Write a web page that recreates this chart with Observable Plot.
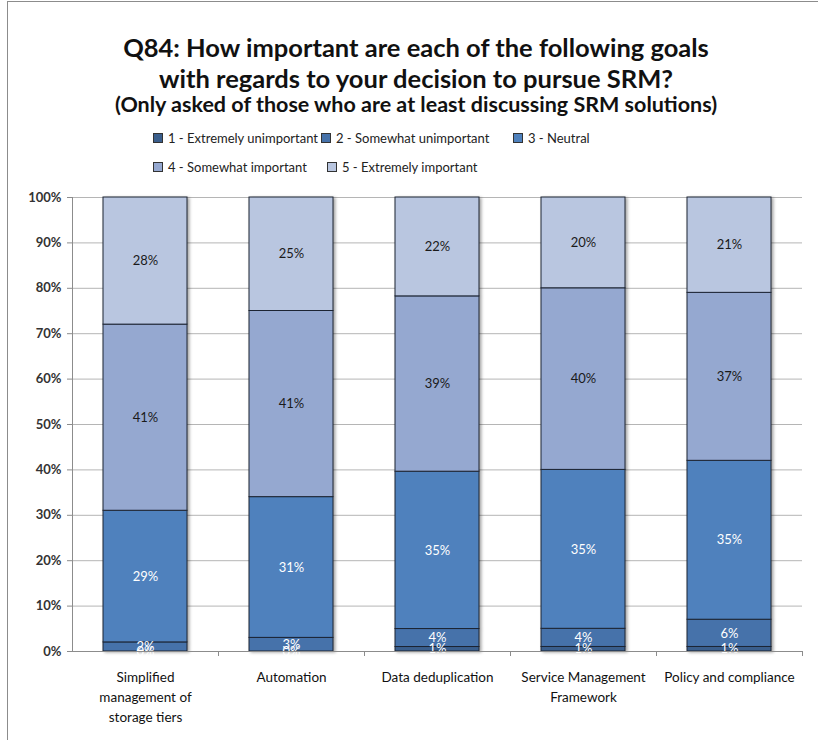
<!DOCTYPE html>
<html><head><meta charset="utf-8">
<script src="https://cdn.jsdelivr.net/npm/d3@7"></script>
<script src="https://cdn.jsdelivr.net/npm/@observablehq/plot@0.6"></script>
<style>
body{margin:0;background:#fff;font-family:Lato,"Open Sans",sans-serif;}
#wrap{position:relative;width:818px;height:740px;overflow:hidden;background:#fff}
#frame{position:absolute;left:7px;top:1px;width:812px;height:742px;border:1px solid #8c8c8c;box-sizing:border-box;pointer-events:none}
.t{position:absolute;left:0;width:832px;text-align:center;font-weight:bold;color:#111;white-space:nowrap}
#t1{top:31px;font-size:25.5px;line-height:32px}
#t2{top:62px;font-size:25.5px;line-height:32px}
#t3{top:91px;font-size:21.5px;line-height:26px}
.leg{position:absolute;font-size:13px;color:#222;white-space:nowrap;line-height:16px}
.leg span.sw{display:inline-block;width:8px;height:8px;border:1px solid #333;margin-right:5px;vertical-align:0px}
#chart{position:absolute;left:0;top:180px}
.bars{filter:drop-shadow(2px 1px 1.5px rgba(0,0,0,0.35))}
</style></head>
<body>
<div id="wrap">
  <div class="t" id="t1"></div>
  <div class="t" id="t2"></div>
  <div class="t" id="t3"></div>
  <div id="legend"></div>
  <div id="chart"></div>
  <div id="frame"></div>
</div>
<script>
const titleLines = ["Q84: How important are each of the following goals", "with regards to your decision to pursue SRM?"];
const subtitle = "(Only asked of those who are at least discussing SRM solutions)";
const categories = ["Simplified management of storage tiers", "Automation", "Data deduplication", "Service Management Framework", "Policy and compliance"];
const categoryLabels = ["Simplified\nmanagement of\nstorage tiers", "Automation", "Data deduplication", "Service Management\nFramework", "Policy and compliance"];
const levels = ["1 - Extremely unimportant", "2 - Somewhat unimportant", "3 - Neutral", "4 - Somewhat important", "5 - Extremely important"];
const colors = ["#3a5e8c", "#4672aa", "#4f81bd", "#95a8d0", "#b9c6e0"];
// values per category, in order of levels 1..5 (percent)
const extremelyUnimportant = [0, 0, 1, 1, 1];
const somewhatUnimportant = [2, 3, 4, 4, 6];
const neutral = [29, 31, 35, 35, 35];
const somewhatImportant = [41, 41, 39, 40, 37];
const extremelyImportant = [28, 25, 22, 20, 21];
const yTicks = [0, 0.1, 0.2, 0.3, 0.4, 0.5, 0.6, 0.7, 0.8, 0.9, 1];

document.getElementById("t1").textContent = titleLines[0];
document.getElementById("t2").textContent = titleLines[1];
document.getElementById("t3").textContent = subtitle;

const legendPos = [[153,130],[321,130],[513,130],[153,159],[327,159]];
const legend = document.getElementById("legend");
levels.forEach((l, i) => {
  const d = document.createElement("div");
  d.className = "leg";
  d.style.left = legendPos[i][0] + "px";
  d.style.top = legendPos[i][1] + "px";
  d.innerHTML = `<span class="sw" style="background:${colors[i]}"></span>`;
  d.appendChild(document.createTextNode(l));
  legend.appendChild(d);
});

const series = [extremelyUnimportant, somewhatUnimportant, neutral, somewhatImportant, extremelyImportant];
const data = [];
categories.forEach((c, ci) => {
  levels.forEach((l, li) => {
    data.push({category: c, level: l, li, value: series[li][ci]});
  });
});

const stackOpts = {x: "category", y: "value", z: "level", order: levels, offset: "normalize"};

const chart = Plot.plot({
  width: 818,
  height: 552,
  marginLeft: 72,
  marginRight: 16,
  marginTop: 17,
  marginBottom: 81,
  style: {fontFamily: "Lato, 'Open Sans', sans-serif", background: "transparent"},
  x: {domain: categories, paddingInner: 0.425, paddingOuter: 0.2125, label: null},
  y: {domain: [0, 1], label: null},
  color: {domain: levels, range: colors},
  marks: [
    Plot.ruleY(yTicks, {stroke: "#b5b5b5", strokeWidth: 1}),
    Plot.axisY({ticks: yTicks, tickFormat: d3.format(".0%"), tickSize: 5, tickPadding: 6, fontSize: 13, fontWeight: "bold", fill: "#333", stroke: "#8c8c8c", label: null}),
    Plot.ruleX([categories[0]], {dx: -73, stroke: "#8c8c8c"}),
    Plot.barY(data, Plot.stackY({...stackOpts, fill: "level", stroke: "#1c2433", strokeWidth: 1, className: "bars"})),
    Plot.text(data, Plot.stackY({...stackOpts, text: d => d.value + "%", fill: d => d.li < 3 ? "#ffffff" : "#1a1a1a", fontSize: 13})),
    Plot.ruleY([0], {stroke: "#8c8c8c"}),
    Plot.axisX({tickFormat: () => "", tickSize: 5, dx: 73, stroke: "#8c8c8c"}),
    Plot.axisX({tickFormat: (d) => categoryLabels[categories.indexOf(d)], tickSize: 0, tickPadding: 16, fontSize: 13.5, lineHeight: 1.48, fill: "#111"})
  ]
});
document.getElementById("chart").appendChild(chart);
</script>
</body></html>
